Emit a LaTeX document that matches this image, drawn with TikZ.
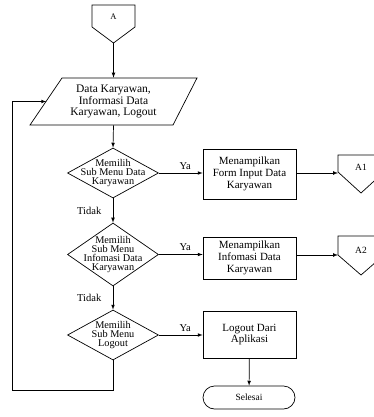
\documentclass[tikz,border=0pt]{standalone}
\usepackage{fontspec}
\setmainfont{Liberation Serif}
\usetikzlibrary{shapes.geometric}

\begin{document}
\begin{tikzpicture}[x=1pt, y=-1pt, line width=0.7pt, >=latex,
    process/.style={draw, rectangle, minimum width=93pt, align=center, font=\fontsize{11}{11.7}\selectfont},
    decision/.style={draw, diamond, minimum width=91pt, inner sep=0pt},
    dtext/.style={align=center, font=\fontsize{10.3}{8.8}\selectfont},
    lbl/.style={font=\fontsize{10.5}{12}\selectfont},
    flow/.style={->}]
\useasboundingbox (0,0) rectangle (373,417);

    % penghubung A
    \draw (92,5) -- (135,5) -- (135,27) -- (113.5,43) -- (92,27) -- cycle;
    \node[font=\fontsize{8.5}{10}\selectfont] (A) at (113.5,17) {A};
    \coordinate (Atip) at (113.5,43);

    % input
    \node[minimum width=134pt, minimum height=47pt, inner sep=0pt, align=center,
          font=\fontsize{11.5}{11.7}\selectfont] (input) at (113.5,101.5)
          {Data Karyawan,\\Informasi Data\\Karyawan, Logout};
    \draw (62,78) -- (197,78) -- (173,125) -- (30,125) -- cycle;

    % keputusan
    \node[decision, minimum height=50pt] (d1) at (113,173) {};
    \node[dtext] at (d1) {Memilih\\Sub Menu Data\\Karyawan};
    \node[decision, minimum height=63pt] (d2) at (113,254.5) {};
    \node[dtext] at (d2) {Memilih\\Sub Menu\\Infomasi Data\\Karyawan};
    \node[decision, minimum height=50pt] (d3) at (113,335) {};
    \node[dtext] at (d3) {Memilih\\Sub Menu\\Logout};

    % proses
    \node[process, minimum height=50pt] (b1) at (249.5,174) {Menampilkan\\Form Input Data\\Karyawan};
    \node[process, minimum height=42pt] (b2) at (249.5,258) {Menampilkan\\Infomasi Data\\Karyawan};
    \node[process, minimum height=47pt] (b3) at (249.5,334.5) {Logout Dari\\Aplikasi};
    \node[draw, rounded corners=11.5pt, minimum width=92pt, minimum height=23pt,
          font=\fontsize{9.5}{11}\selectfont] (end) at (249,397.5) {Selesai};

    % penghubung A1 dan A2
    \draw (338,155) -- (384,155) -- (384,172) -- (361,193) -- (338,172) -- cycle;
    \node[font=\fontsize{9.5}{11}\selectfont] (A1) at (361,167) {A1};
    \coordinate (A1in) at (338,173);
    \draw (338,236) -- (384,236) -- (384,255) -- (361,275) -- (338,255) -- cycle;
    \node[font=\fontsize{9.5}{11}\selectfont] (A2) at (361,250) {A2};
    \coordinate (A2in) at (338,255);

    \coordinate (loop) at (12,390);

    % alur
    \draw[flow] (Atip) -- (input.north);
    \draw[flow] (input.south) -- (d1.north);
    \draw[flow] (d1) -- node[lbl, above, pos=0.6] {Ya} (b1.west |- d1);
    \draw[flow] (b1.east |- A1in) -- (A1in);
    \draw[flow] (d1) -- node[lbl, left=8pt] {Tidak} (d2);
    \draw[flow] (d2) -- node[lbl, above, pos=0.6] {Ya} (b2.west |- d2);
    \draw[flow] (b2.east |- A2in) -- (A2in);
    \draw[flow] (d2) -- node[lbl, left=8pt] {Tidak} (d3);
    \draw[flow] (d3) -- node[lbl, above, pos=0.6] {Ya} (b3.west |- d3);
    \draw[flow] (b3) -- (end);
    \draw[flow] (d3.south) |- (loop) |- (input.west);
\end{tikzpicture}
\end{document}
